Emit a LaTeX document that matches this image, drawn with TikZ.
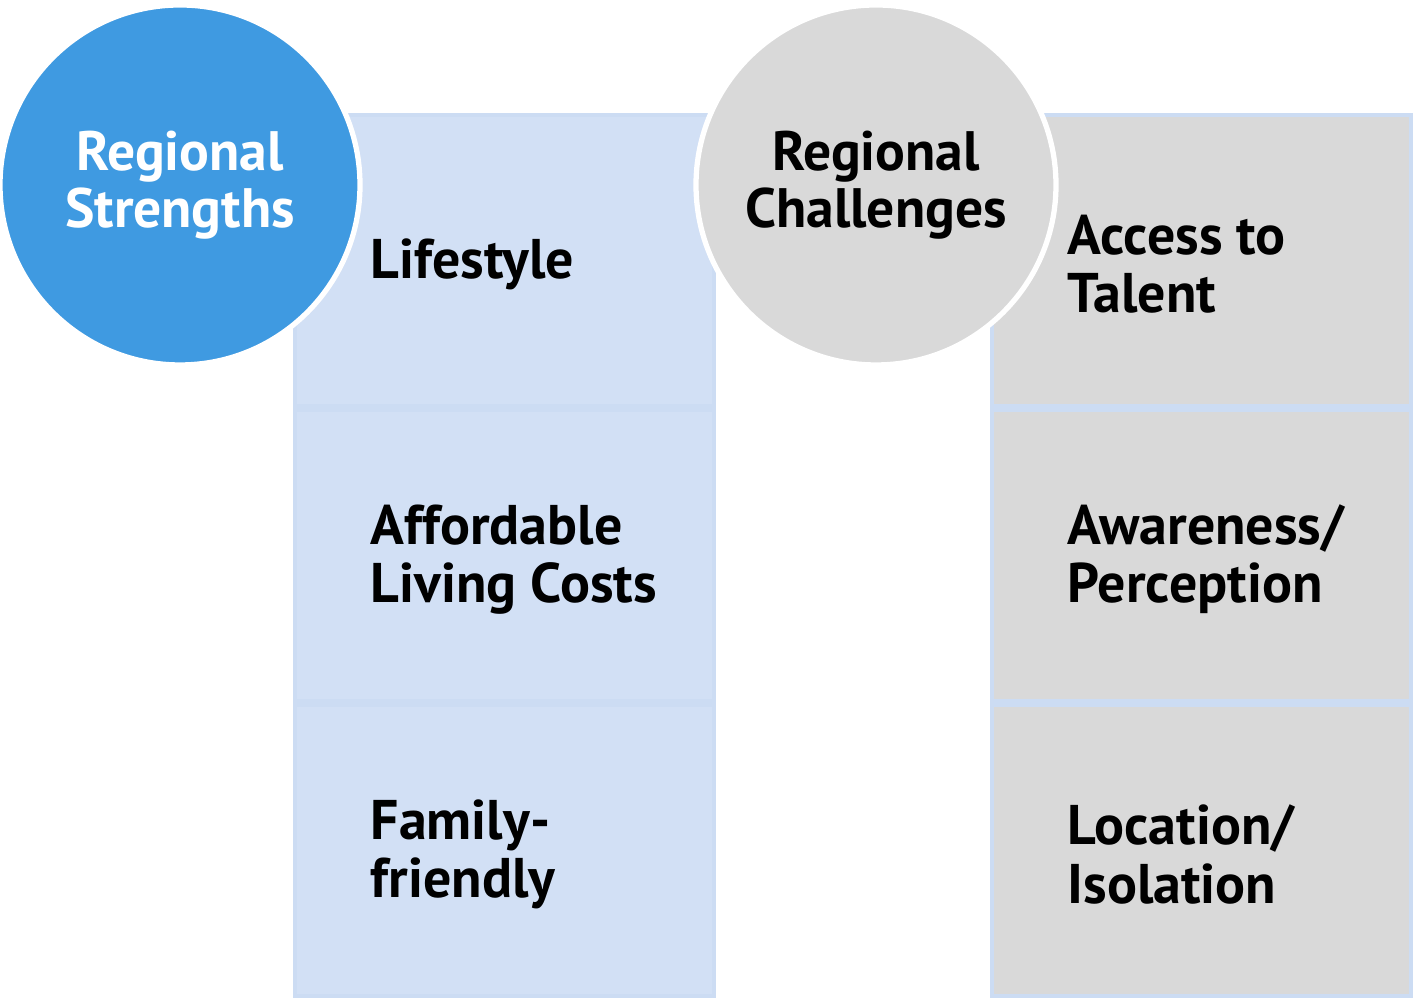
\documentclass[tikz,border=0pt]{standalone}
\usepackage{fontspec}
\setmainfont{PT Sans}
\usetikzlibrary{positioning}

\begin{document}
\begin{tikzpicture}
        [line join=miter,
        % Styles
        head circle/.style={circle, minimum size=3.6cm, inner sep=0pt,
                draw=white, line width=1.5pt, align=center,
                font=\bfseries\fontsize{15.8}{16.4}\selectfont},
        strength box/.style={rectangle, minimum width=4.19cm, minimum height=2.91cm,
                inner sep=0pt, fill=boxblue, draw=boxedge, line width=1.1pt},
        challenge box/.style={strength box, fill=boxgray},
        item text/.style={align=left, inner sep=0pt, yshift=-0.04cm,
                font=\bfseries\fontsize{15.9}{16.6}\selectfont}]

        % Colors
        \definecolor{strengthcolor}{HTML}{3F9AE1}
        \definecolor{challengecolor}{HTML}{D9D9D9}
        \definecolor{boxblue}{HTML}{D2E0F5}
        \definecolor{boxedge}{HTML}{CCDCF3}
        \definecolor{boxgray}{HTML}{D9D9D9}

        \useasboundingbox (0, 0) rectangle (14.14, 10);

        % Strengths column
        \node[strength box] (lifestyle box) at (5.045, 7.395) {};
        \node[strength box] (living box) at (5.045, 4.445) {};
        \node[strength box] (family box) at (5.045, 1.495) {};

        % Challenges column
        \node[challenge box] (talent box) at (12.015, 7.395) {};
        \node[challenge box] (awareness box) at (12.015, 4.445) {};
        \node[challenge box] (location box) at (12.015, 1.495) {};

        % Texts in the boxes
        \node[item text, right=0.77cm of lifestyle box.west] (lifestyle) {Lifestyle};
        \node[item text, right=0.77cm of living box.west] (living) {Affordable\\Living Costs};
        \node[item text, right=0.77cm of family box.west] (family) {Family-\\friendly};
        \node[item text, right=0.77cm of talent box.west] (talent) {Access to\\Talent};
        \node[item text, right=0.77cm of awareness box.west] (awareness) {Awareness/\\Perception};
        \node[item text, right=0.77cm of location box.west] (location) {Location/\\Isolation};

        % The two heading circles on top
        \node[head circle, fill=strengthcolor, text=white] (strengths) at (1.80, 8.15)
                {Regional\\Strengths};
        \node[head circle, fill=challengecolor, text=black] (challenges) at (8.76, 8.15)
                {Regional\\Challenges};
\end{tikzpicture}
\end{document}
